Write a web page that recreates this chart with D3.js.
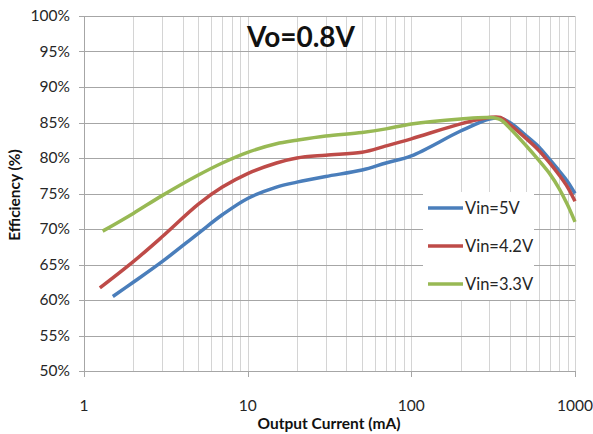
<!DOCTYPE html>
<meta charset="utf-8">
<style>
body { margin: 0; background: #fff; }
svg { font-family: Lato, "Open Sans", sans-serif; }
.grid-h line { stroke: #a6a6a6; stroke-width: 1px; }
.grid-v line { stroke: #d4d4d4; stroke-width: 1px; }
.tick-lbl { font-size: 15.5px; fill: #262626; }
</style>
<div id="chart"></div>
<script src="https://d3js.org/d3.v7.min.js"></script>
<script>

var width = 593, height = 434;

// data (current in mA, efficiency in %)
var x5v   = [1.5, 2, 3, 5, 7, 10, 15, 20, 30, 50, 70, 100, 200, 300, 350, 400, 500, 600, 700, 800, 900, 1000];
var eff5v = [60.5, 62.5, 65.4, 69.4, 72.0, 74.3, 75.9, 76.6, 77.4, 78.3, 79.3, 80.3, 83.8, 85.5, 85.6, 85.0, 83.2, 81.6, 79.8, 78.2, 76.7, 75.0];

var x42v   = [1.25, 2, 3, 5, 7, 10, 15, 20, 30, 50, 70, 100, 200, 300, 350, 400, 500, 600, 700, 800, 900, 1000];
var eff42v = [61.7, 65.4, 68.9, 73.5, 75.9, 77.8, 79.3, 80.0, 80.4, 80.8, 81.7, 82.7, 84.8, 85.7, 85.7, 84.7, 82.8, 81.1, 79.3, 77.6, 75.9, 73.9];

var x33v   = [1.3, 2, 3, 5, 7, 10, 15, 20, 30, 50, 70, 100, 200, 300, 350, 400, 500, 600, 700, 800, 900, 1000];
var eff33v = [69.7, 72.2, 74.7, 77.6, 79.3, 80.8, 82.0, 82.5, 83.1, 83.6, 84.1, 84.8, 85.5, 85.7, 85.4, 84.2, 81.8, 79.7, 77.8, 75.7, 73.4, 71.0];

var seriesNames = ["Vin=5V", "Vin=4.2V", "Vin=3.3V"];
var seriesColors = ["#4a7ebb", "#be4b48", "#98b954"];
var yTicks = [50, 55, 60, 65, 70, 75, 80, 85, 90, 95, 100];
var xTicks = [1, 10, 100, 1000];

var series = [
  {name: seriesNames[0], color: seriesColors[0], pts: x5v.map(function(v, i) { return [v, eff5v[i]]; })},
  {name: seriesNames[1], color: seriesColors[1], pts: x42v.map(function(v, i) { return [v, eff42v[i]]; })},
  {name: seriesNames[2], color: seriesColors[2], pts: x33v.map(function(v, i) { return [v, eff33v[i]]; })}
];

var plotLeft = 84, plotRight = 575, plotTop = 16, plotBottom = 371;

var x = d3.scaleLog().domain([1, 1000]).range([plotLeft, plotRight]);
var y = d3.scaleLinear().domain([50, 100]).range([plotBottom, plotTop]);

var svg = d3.select("#chart").append("svg")
    .attr("width", width)
    .attr("height", height);

// vertical grid: every minor step of each decade
var minor = [];
for (var d = 1; d < 1000; d *= 10) {
  for (var k = 1; k <= 9; k++) minor.push(d * k);
}
minor.push(1000);

svg.append("g").attr("class", "grid-v")
  .selectAll("line").data(minor.filter(function(v) { return v > 1; }))
  .enter().append("line")
    .attr("x1", function(v) { return Math.round(x(v)) + 0.5; })
    .attr("x2", function(v) { return Math.round(x(v)) + 0.5; })
    .attr("y1", plotTop).attr("y2", plotBottom);

svg.append("g").attr("class", "grid-h")
  .selectAll("line").data(yTicks)
  .enter().append("line")
    .attr("x1", plotLeft - 5).attr("x2", plotRight)
    .attr("y1", function(v) { return Math.round(y(v)) + 0.5; })
    .attr("y2", function(v) { return Math.round(y(v)) + 0.5; });

// left axis line and bottom ticks
svg.append("line")
    .attr("x1", plotLeft + 0.5).attr("x2", plotLeft + 0.5)
    .attr("y1", plotTop).attr("y2", plotBottom)
    .attr("stroke", "#a6a6a6");

svg.append("g").selectAll("line").data(xTicks)
  .enter().append("line")
    .attr("x1", function(v) { return Math.round(x(v)) + 0.5; })
    .attr("x2", function(v) { return Math.round(x(v)) + 0.5; })
    .attr("y1", plotBottom).attr("y2", plotBottom + 6)
    .attr("stroke", "#a6a6a6");

// tick labels
svg.append("g").selectAll("text").data(yTicks)
  .enter().append("text")
    .attr("class", "tick-lbl")
    .attr("x", 70)
    .attr("y", function(v) { return y(v); })
    .attr("dy", "0.35em")
    .attr("text-anchor", "end")
    .text(function(v) { return v + "%"; });

svg.append("g").selectAll("text").data(xTicks)
  .enter().append("text")
    .attr("class", "tick-lbl")
    .attr("x", function(v) { return x(v); })
    .attr("y", 411)
    .attr("text-anchor", "middle")
    .text(function(v) { return v; });

// axis titles
svg.append("text")
    .attr("x", 329).attr("y", 429)
    .attr("text-anchor", "middle")
    .attr("font-size", "15.5px")
    .attr("font-weight", "bold")
    .attr("fill", "#111")
    .text("Output Current (mA)");

svg.append("text")
    .attr("transform", "translate(20,195) rotate(-90)")
    .attr("text-anchor", "middle")
    .attr("font-size", "15.5px")
    .attr("font-weight", "bold")
    .attr("fill", "#111")
    .text("Efficiency (%)");

// chart title
svg.append("text")
    .attr("x", 301).attr("y", 47)
    .attr("text-anchor", "middle")
    .attr("font-size", "28px")
    .attr("font-weight", "bold")
    .attr("fill", "#111")
    .text("Vo=0.8V");

// curves
var line = d3.line()
    .x(function(p) { return x(p[0]); })
    .y(function(p) { return y(p[1]); })
    .curve(d3.curveCatmullRom.alpha(0.5));

svg.append("g").selectAll("path").data(series)
  .enter().append("path")
    .attr("d", function(s) { return line(s.pts); })
    .attr("fill", "none")
    .attr("stroke", function(s) { return s.color; })
    .attr("stroke-width", 3.5);

// legend
var legend = svg.append("g");
legend.append("rect")
    .attr("x", 423).attr("y", 192)
    .attr("width", 111).attr("height", 108)
    .attr("fill", "#fff");

var item = legend.selectAll("g").data(series)
  .enter().append("g")
    .attr("transform", function(s, i) { return "translate(0," + (208 + i * 38) + ")"; });

item.append("line")
    .attr("x1", 428).attr("x2", 463)
    .attr("y1", 0).attr("y2", 0)
    .attr("stroke", function(s) { return s.color; })
    .attr("stroke-width", 3.5);

item.append("text")
    .attr("x", 465).attr("y", 0)
    .attr("dy", "0.35em")
    .attr("font-size", "16.5px")
    .attr("fill", "#262626")
    .text(function(s) { return s.name; });

</script>
